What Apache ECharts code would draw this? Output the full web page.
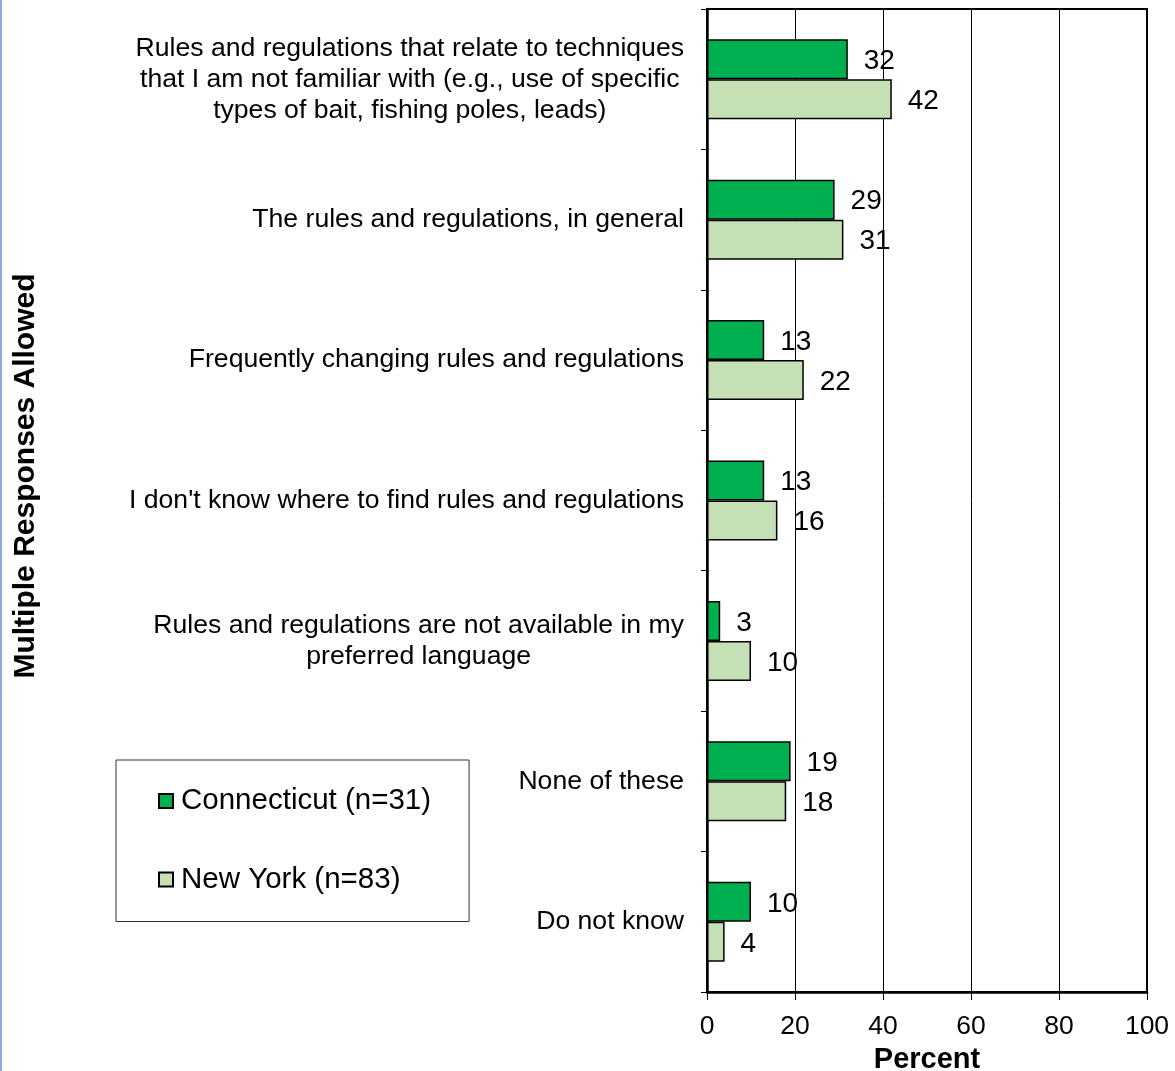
<!DOCTYPE html>
<html>
<head>
<meta charset="utf-8">
<script src="https://cdn.jsdelivr.net/npm/echarts@6/dist/echarts.min.js"></script>
<style>
  html, body { margin: 0; padding: 0; background: #fff; }
  #chart { width: 1175px; height: 1071px; }
</style>
</head>
<body>
<div id="chart"></div>
<script>
const categories = [
  "Rules and regulations that relate to techniques\nthat I am not familiar with (e.g., use of specific\ntypes of bait, fishing poles, leads)",
  "The rules and regulations, in general",
  "Frequently changing rules and regulations",
  "I don't know where to find rules and regulations",
  "Rules and regulations are not available in my\npreferred language",
  "None of these",
  "Do not know"
];
const seriesNames = ["Connecticut (n=31)", "New York (n=83)"];
const connecticut = [32, 29, 13, 13, 3, 19, 10];
const newYork = [42, 31, 22, 16, 10, 18, 4];
const xTicks = [0, 20, 40, 60, 80, 100];

const FONT = '"Liberation Sans", Arial, sans-serif';
const chart = echarts.init(document.getElementById('chart'), null, { renderer: 'canvas' });

const labelStyle = {
  show: true,
  position: 'right',
  distance: 16,
  offset: [0, 2],
  color: '#000',
  fontSize: 28,
  fontFamily: FONT
};

chart.setOption({
  backgroundColor: '#fff',
  animation: false,
  textStyle: { fontFamily: FONT, color: '#000' },
  grid: {
    left: 707, right: 28, top: 9, bottom: 79,
    outerBoundsMode: 'none',
    containLabel: false,
    show: true, borderColor: '#000', borderWidth: 2, backgroundColor: 'transparent'
  },
  legend: {
    orient: 'vertical',
    left: 116,
    top: 760,
    padding: [26, 38, 27, 42],
    itemGap: 48.5,
    itemWidth: 14,
    itemHeight: 14,
    icon: 'rect',
    borderColor: '#333',
    borderWidth: 1,
    backgroundColor: '#fff',
    textStyle: { fontSize: 29.5, fontFamily: FONT, color: '#000', padding: [0, 0, 0, 3] },
    data: seriesNames
  },
  xAxis: {
    type: 'value',
    min: xTicks[0],
    max: xTicks[xTicks.length - 1],
    interval: 20,
    name: 'Percent',
    nameLocation: 'middle',
    nameGap: 53,
    nameTextStyle: { fontSize: 29, fontWeight: 'bold', fontFamily: FONT, color: '#000' },
    axisLine: { show: true, lineStyle: { color: '#000', width: 2.5 } },
    axisTick: { show: true, length: 8, lineStyle: { color: '#000', width: 1 } },
    axisLabel: { fontSize: 26.5, color: '#000', fontFamily: FONT, margin: 21 },
    splitLine: { show: true, lineStyle: { color: '#000', width: 1 } }
  },
  yAxis: {
    type: 'category',
    inverse: true,
    data: categories,
    axisLine: { show: true, lineStyle: { color: '#000', width: 2.5 } },
    axisTick: { show: true, length: 6, lineStyle: { color: '#000', width: 1 } },
    axisLabel: {
      margin: 23,
      color: '#000',
      fontSize: 26.6,
      fontFamily: FONT,
      lineHeight: 31,
      align: 'right',
      formatter: function (v) {
        return v.split('\n').map(function (l) { return '{c|' + l + '}'; }).join('\n');
      },
      rich: {
        c: { align: 'center', fontSize: 26.6, lineHeight: 31, color: '#000', fontFamily: FONT }
      }
    },
    splitLine: { show: false }
  },
  graphic: [
    {
      type: 'rect',
      left: 0, top: 0,
      shape: { x: 0, y: 0, width: 2, height: 1071 },
      style: { fill: '#8EA9DB' },
      silent: true
    },
    {
      type: 'text',
      x: 26, y: 476,
      rotation: Math.PI / 2,
      style: {
        text: 'Multiple Responses Allowed',
        fontSize: 30,
        fontWeight: 'bold',
        fontFamily: FONT,
        fill: '#000',
        align: 'center',
        verticalAlign: 'middle'
      }
    }
  ],
  series: [
    {
      name: seriesNames[0],
      type: 'bar',
      data: connecticut,
      barWidth: 40,
      barGap: '0%',
      itemStyle: { color: '#00B050', borderColor: '#000', borderWidth: 1.5 },
      label: labelStyle
    },
    {
      name: seriesNames[1],
      type: 'bar',
      data: newYork,
      barWidth: 40,
      barGap: '0%',
      itemStyle: { color: '#C5E0B4', borderColor: '#000', borderWidth: 1.5 },
      label: labelStyle
    }
  ]
});
</script>
</body>
</html>
